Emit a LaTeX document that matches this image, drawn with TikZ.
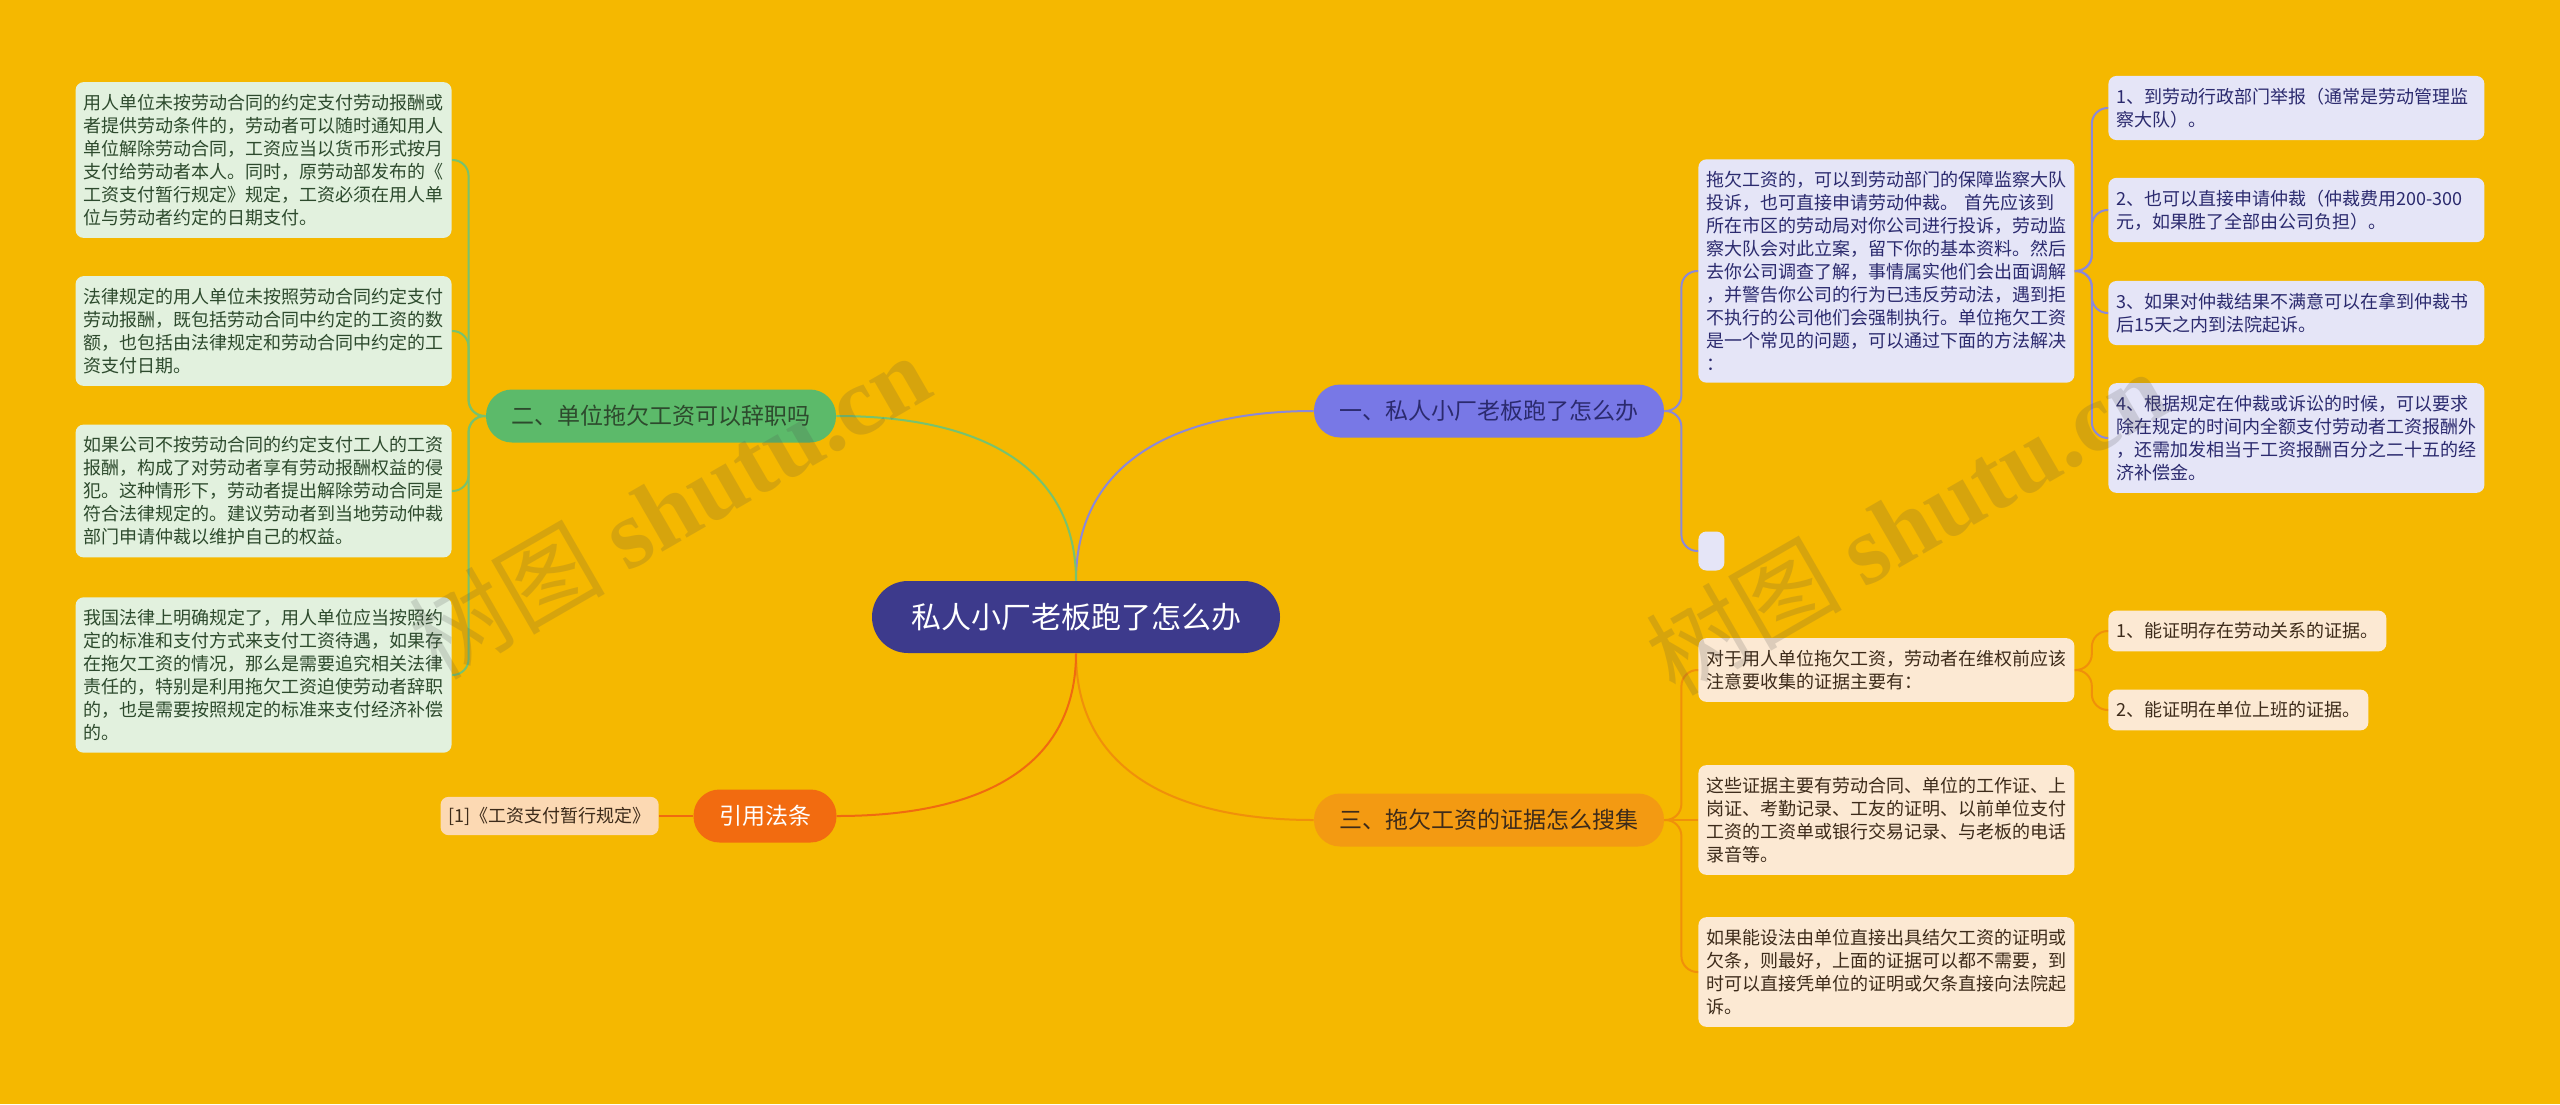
\documentclass[tikz,border=0pt]{standalone}
\usepackage{fontspec}
\setmainfont{Noto Sans CJK SC}
\newfontfamily\wmlatin{Liberation Serif}
\usetikzlibrary{positioning}

\definecolor{tausta}{HTML}{F5B800}
\definecolor{juuri}{HTML}{3D3A8C}
\definecolor{haara1}{HTML}{7878E6}
\definecolor{haara2}{HTML}{5CBA6A}
\definecolor{haara3}{HTML}{F39A12}
\definecolor{haara4}{HTML}{F26B10}
\definecolor{viiva1}{HTML}{8C88D8}
\definecolor{viiva2}{HTML}{78C26E}
\definecolor{viiva3}{HTML}{F0900A}
\definecolor{viiva4}{HTML}{F06A10}
\definecolor{lehti1}{HTML}{E5E5F7}
\definecolor{lehti2}{HTML}{E2F1DE}
\definecolor{lehti3}{HTML}{FCE9D3}
\definecolor{teksti1}{HTML}{2B2A6E}
\definecolor{teksti2}{HTML}{2D4A2D}
\definecolor{teksti3}{HTML}{3D2B1A}

\begin{document}
\begin{tikzpicture}[x=0.5pt, y=-0.5pt, node distance=17pt]
    % Tyylit
    \tikzstyle{root}=[rounded corners=18pt, fill=juuri, text=white, font=\fontsize{15}{18}\selectfont, inner xsep=19.5pt, minimum height=36pt]
    \tikzstyle{branch}=[rounded corners=13pt, font=\fontsize{11.5}{14}\selectfont, inner xsep=12.75pt, minimum height=26.5pt]
    \tikzstyle{leaf}=[rounded corners=4pt, font=\fontsize{9}{11.5}\selectfont, align=left, inner xsep=4pt, inner ysep=6pt]
    \tikzstyle{purpleleaf}=[leaf, fill=lehti1, text=teksti1]
    \tikzstyle{greenleaf}=[leaf, fill=lehti2, text=teksti2]
    \tikzstyle{orangeleaf}=[leaf, fill=lehti3, text=teksti3]
    \tikzstyle{wide}=[text width=180pt]
    \tikzstyle{line1}=[draw=viiva1, line width=1pt, rounded corners=8pt]
    \tikzstyle{line2}=[draw=viiva2, line width=1pt, rounded corners=8pt]
    \tikzstyle{line3}=[draw=viiva3, line width=1pt, rounded corners=8pt]
    \tikzstyle{line4}=[draw=viiva4, line width=1pt]
    \tikzstyle{watermark}=[rotate=30, text=black!70, opacity=0.18, font=\fontsize{49}{55}\selectfont]

    % Tausta
    \fill[tausta] (0,0) rectangle (2560,1104);
    \useasboundingbox (0,0) rectangle (2560,1104);

    % Juuri ja haarat
    \node[root] (root) at (1076,617) {私人小厂老板跑了怎么办};
    \node[branch, fill=haara1, text=teksti1] (b1) at (1489,411) {一、私人小厂老板跑了怎么办};
    \node[branch, fill=haara2, text=teksti2] (b2) at (661,416) {二、单位拖欠工资可以辞职吗};
    \node[branch, fill=haara3, text=teksti3] (b3) at (1489,820) {三、拖欠工资的证据怎么搜集};
    \node[branch, fill=haara4, text=white] (b4) at (765,816) {引用法条};

    % Haara 1 (oikealle ylös)
    \node[purpleleaf, wide, anchor=west] (r1) at (1698,271) {拖欠工资的，可以到劳动部门的保障监察大队\\投诉，也可直接申请劳动仲裁。 首先应该到\\所在市区的劳动局对你公司进行投诉，劳动监\\察大队会对此立案，留下你的基本资料。然后\\去你公司调查了解，事情属实他们会出面调解\\，并警告你公司的行为已违反劳动法，遇到拒\\不执行的公司他们会强制执行。单位拖欠工资\\是一个常见的问题，可以通过下面的方法解决\\：};
    \node[purpleleaf, anchor=west, minimum width=13pt, minimum height=19.5pt] (tyhja) at (1698,551) {};
    \node[purpleleaf, wide, anchor=west] (s1) at (2108,108) {1、到劳动行政部门举报（通常是劳动管理监\\察大队）。};
    \node[purpleleaf, wide, anchor=west] (s2) at (2108,210) {2、也可以直接申请仲裁（仲裁费用200-300\\元，如果胜了全部由公司负担）。};
    \node[purpleleaf, wide, anchor=west] (s3) at (2108,313) {3、如果对仲裁结果不满意可以在拿到仲裁书\\后15天之内到法院起诉。};
    \node[purpleleaf, wide, anchor=west] (s4) at (2108,438) {4、根据规定在仲裁或诉讼的时候，可以要求\\除在规定的时间内全额支付劳动者工资报酬外\\，还需加发相当于工资报酬百分之二十五的经\\济补偿金。};

    % Haara 2 (vasemmalle)
    \node[greenleaf, wide, anchor=east] (l1) at (452,160) {用人单位未按劳动合同的约定支付劳动报酬或\\者提供劳动条件的，劳动者可以随时通知用人\\单位解除劳动合同，工资应当以货币形式按月\\支付给劳动者本人。同时，原劳动部发布的《\\工资支付暂行规定》规定，工资必须在用人单\\位与劳动者约定的日期支付。};
    \node[greenleaf, wide, anchor=east] (l2) at (452,331) {法律规定的用人单位未按照劳动合同约定支付\\劳动报酬，既包括劳动合同中约定的工资的数\\额，也包括由法律规定和劳动合同中约定的工\\资支付日期。};
    \node[greenleaf, wide, anchor=east] (l3) at (452,491) {如果公司不按劳动合同的约定支付工人的工资\\报酬，构成了对劳动者享有劳动报酬权益的侵\\犯。这种情形下，劳动者提出解除劳动合同是\\符合法律规定的。建议劳动者到当地劳动仲裁\\部门申请仲裁以维护自己的权益。};
    \node[greenleaf, wide, anchor=east] (l4) at (452,675) {我国法律上明确规定了，用人单位应当按照约\\定的标准和支付方式来支付工资待遇，如果存\\在拖欠工资的情况，那么是需要追究相关法律\\责任的，特别是利用拖欠工资迫使劳动者辞职\\的，也是需要按照规定的标准来支付经济补偿\\的。};

    % Haara 3 (oikealle alas)
    \node[orangeleaf, wide, anchor=west] (t1) at (1698,670) {对于用人单位拖欠工资，劳动者在维权前应该\\注意要收集的证据主要有：};
    \node[orangeleaf, wide, anchor=west] (t2) at (1698,820) {这些证据主要有劳动合同、单位的工作证、上\\岗证、考勤记录、工友的证明、以前单位支付\\工资的工资单或银行交易记录、与老板的电话\\录音等。};
    \node[orangeleaf, wide, anchor=west] (t3) at (1698,972) {如果能设法由单位直接出具结欠工资的证明或\\欠条，则最好，上面的证据可以都不需要，到\\时可以直接凭单位的证明或欠条直接向法院起\\诉。};
    \node[orangeleaf, anchor=west] (u1) at (2108,631) {1、能证明存在劳动关系的证据。};
    \node[orangeleaf, anchor=west] (u2) at (2108,710) {2、能证明在单位上班的证据。};

    % Haara 4
    \node[orangeleaf, fill=lehti3!85!orange, inner ysep=5pt, left=of b4] (ref) {[1]《工资支付暂行规定》};

    % Yhteydet juuresta
    \draw[line1] (root.north) .. controls +(0,-110) and +(-150,0) .. (b1.west);
    \draw[line2] (root.north) .. controls +(0,-110) and +(150,0) .. (b2.east);
    \draw[line3] (root.south) .. controls +(0,110) and +(-150,0) .. (b3.west);
    \draw[line4] (root.south) .. controls +(0,110) and +(150,0) .. (b4.east);

    % Yhteydet lehtiin
    \draw[line1] (b1.east) -- ++(17,0) |- (r1.west);
    \draw[line1] (b1.east) -- ++(17,0) |- (tyhja.west);
    \foreach \s in {s1,s2,s3,s4}
        \draw[line1] (r1.east) -- ++(17,0) |- (\s.west);
    \foreach \l in {l1,l2,l3,l4}
        \draw[line2] (b2.west) -- ++(-17,0) |- (\l.east);
    \draw[line3] (b3.east) -- ++(17,0) |- (t1.west);
    \draw[line3] (b3.east) -- (t2.west);
    \draw[line3] (b3.east) -- ++(17,0) |- (t3.west);
    \draw[line3] (t1.east) -- ++(17,0) |- (u1.west);
    \draw[line3] (t1.east) -- ++(17,0) |- (u2.west);
    \draw[line4] (b4.west) -- (ref.east);

    % Vesileima
    \node[watermark] (wm1) at (669,506) {树图 {\wmlatin\bfseries shutu.cn}};
    \node[watermark] (wm2) at (1906,522) {树图 {\wmlatin\bfseries shutu.cn}};
\end{tikzpicture}
\end{document}
